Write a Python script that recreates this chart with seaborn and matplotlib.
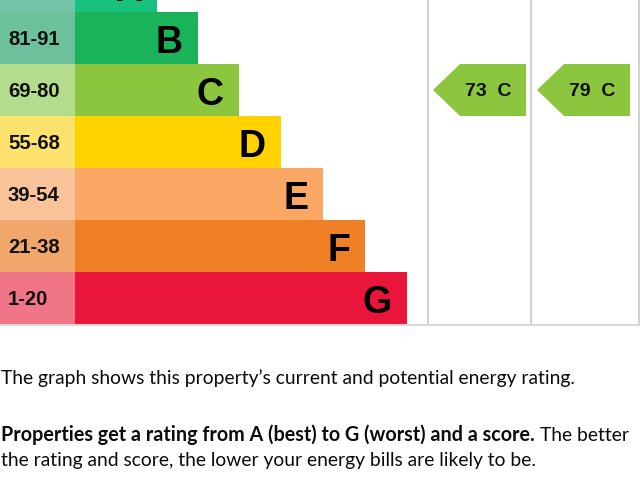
import matplotlib
matplotlib.use("Agg")
import matplotlib.pyplot as plt
from matplotlib.patches import Polygon
import seaborn as sns

# ---- data ----
bands = ["A", "B", "C", "D", "E", "F", "G"]
score_ranges = ["92+", "81-91", "69-80", "55-68", "39-54", "21-38", "1-20"]
bar_ends = [157, 198, 239, 281, 323, 365, 407]
band_colors = ["#17c17c", "#1bb35a", "#8cc63f", "#ffd200", "#fba766", "#ef8026", "#e9153b"]
label_colors = ["#72c5a6", "#6cc19c", "#b3dc8c", "#fde36e", "#f9c39a", "#f1a66b", "#f07587"]
band_floor = [92, 81, 69, 55, 39, 21, 1]
current_score = 73
potential_score = 79

sns.set_style("white")
plt.rcParams["font.family"] = ["Liberation Sans", "DejaVu Sans"]

W, H = 640, 479
fig = plt.figure(figsize=(W / 100, H / 100), dpi=100)
chart_bottom = 324.5
ax = fig.add_axes([0, 1 - chart_bottom / H, 1, chart_bottom / H])

sns.barplot(x=bar_ends, y=bands, hue=bands, palette=band_colors, orient="h",
            width=1.0, legend=False, ax=ax, saturation=1, linewidth=0, edgecolor="none")
ypos = list(range(len(bands)))
ax.barh(ypos, 75, height=1.0, color=label_colors, left=0, linewidth=0)

# pixel mapping: row centre of B at y=38px, rows 52px tall
ax.set_xlim(0, W)
ax.set_ylim(1 + (chart_bottom - 38) / 52, 1 - 38 / 52)

for i, (b, rng, end) in enumerate(zip(bands, score_ranges, bar_ends)):
    ax.text(8, i + 0.02, rng, ha="left", va="center", fontsize=14.6, fontweight="bold", color="#111111")
    ax.text(end - 15, i + 0.09, b, ha="right", va="center", fontsize=27, fontweight="bold", color="#000000")

def band_of(score):
    for i, f in enumerate(band_floor):
        if score >= f:
            return i
    return len(bands) - 1

def arrow(tip_x, score):
    i = band_of(score)
    right = tip_x + 93
    pts = [(tip_x, i), (tip_x + 27, i - 0.5), (right, i - 0.5), (right, i + 0.5), (tip_x + 27, i + 0.5)]
    ax.add_patch(Polygon(pts, closed=True, color=band_colors[i], lw=0))
    ax.text(tip_x + 55, i + 0.03, f"{score}  {bands[i]}", ha="center", va="center",
            fontsize=14, fontweight="bold", color="#111111")

arrow(433, current_score)
arrow(537, potential_score)

for xv in [428, 531, 638.5]:
    ax.axvline(xv, color="#d2d2d2", lw=1.6)

for s in ["top", "left", "right"]:
    ax.spines[s].set_visible(False)
ax.spines["bottom"].set_color("#d8d8d8")
ax.spines["bottom"].set_linewidth(1.5)
ax.set_xticks([])
ax.set_yticks([])
ax.set_xlabel("")
ax.set_ylabel("")

# ---- text below the chart ----
body = ["Lato", "DejaVu Sans"]
fs = 13.85
tc = "#0b0c0c"
fig.text(1 / W, 1 - 384 / H, "The graph shows this property\u2019s current and potential energy rating.",
         fontsize=fs, color=tc, family=body, va="baseline", ha="left")
t_bold = fig.text(1 / W, 1 - 441 / H, "Properties get a rating from A (best) to G (worst) and a score.",
                  fontsize=14.2, color=tc, family=body, fontweight="bold", va="baseline", ha="left")
fig.canvas.draw()
bb = t_bold.get_window_extent()
fig.text((bb.x1 + 5) / W, 1 - 441 / H, "The better", fontsize=fs, color=tc, family=body,
         va="baseline", ha="left")
fig.text(1 / W, 1 - 466 / H, "the rating and score, the lower your energy bills are likely to be.",
         fontsize=fs, color=tc, family=body, va="baseline", ha="left")

fig.savefig("out.png", dpi=100)
